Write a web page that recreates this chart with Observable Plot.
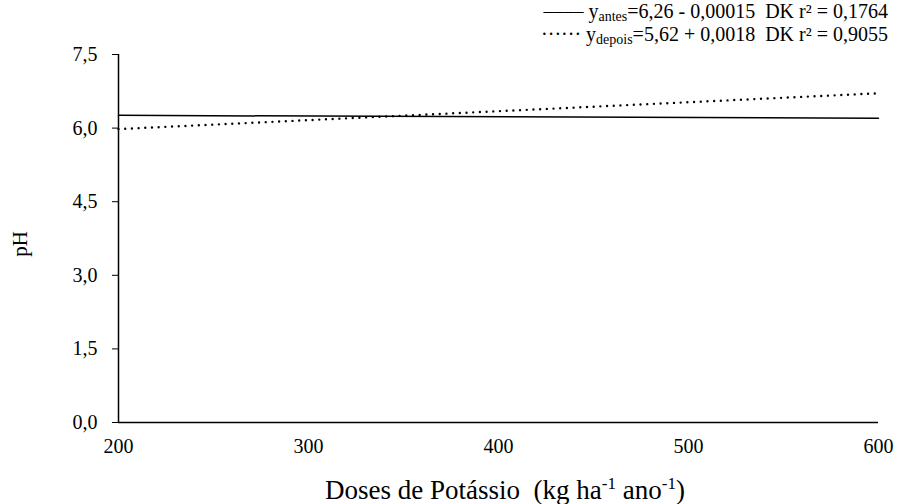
<!DOCTYPE html>
<html><head><meta charset="utf-8">
<script src="https://cdn.jsdelivr.net/npm/d3@7"></script>
<script src="https://cdn.jsdelivr.net/npm/@observablehq/plot@0.6"></script>
<style>body{margin:0;background:#fff} svg, svg text{font-family:'Liberation Serif','Times New Roman',serif !important}</style>
</head><body><div id="chart"></div>
<script>
const doses = [200, 600];
const phAntes = [6.26, 6.20];
const phDepois = [5.98, 6.71];
const yTicks = [0, 1.5, 3, 4.5, 6, 7.5];
const xTicks = [200, 300, 400, 500, 600];
const antes = doses.map((d, i) => ({dose: d, ph: phAntes[i]}));
const depois = doses.map((d, i) => ({dose: d, ph: phDepois[i]}));
const fmt = d => d.toFixed(1).replace(".", ",");
const FONT = "'Liberation Serif', 'Times New Roman', serif";

const chart = Plot.plot({
  width: 898, height: 504,
  marginLeft: 118, marginRight: 20, marginTop: 54, marginBottom: 82,
  style: {fontFamily: FONT, fontSize: "20px", color: "#000", background: "#fff"},
  x: {domain: [200, 600]},
  y: {domain: [0, 7.5]},
  marks: [
    Plot.axisY({ticks: yTicks, tickFormat: fmt, tickSize: 6, tickPadding: 15, label: null, fontSize: 20}),
    Plot.axisX({ticks: xTicks, tickSize: 0, tickPadding: 16, label: null, fontSize: 20, tickFormat: d => String(d)}),
    Plot.ruleX([200], {stroke: "#000", strokeWidth: 1.5}),
    Plot.ruleY([0], {stroke: "#000", strokeWidth: 1.5}),
    Plot.line(antes, {x: "dose", y: "ph", stroke: "#000", strokeWidth: 1.5}),
    Plot.line(depois, {x: "dose", y: "ph", stroke: "#000", strokeWidth: 2.4, strokeDasharray: "0 6.7", strokeLinecap: "round"})
  ]
});
document.getElementById("chart").appendChild(chart);

const svg = d3.select(chart);
svg.append("text").attr("transform", "translate(27,244) rotate(-90)")
  .attr("font-family", FONT).attr("text-anchor", "middle").attr("font-size", 21).text("pH");

const xl = svg.append("text").attr("x", 505).attr("y", 499).attr("text-anchor", "middle")
  .attr("font-family", FONT).attr("font-size", 27);
xl.append("tspan").text("Doses de Potássio\u00a0 (kg ha");
xl.append("tspan").attr("dy", -10).attr("font-size", 17).text("-1");
xl.append("tspan").attr("dy", 10).text(" ano");
xl.append("tspan").attr("dy", -10).attr("font-size", 17).text("-1");
xl.append("tspan").attr("dy", 10).text(")");

const leg = [
  {mark: "\u2013\u2013\u2013\u2013 y", sub: "antes", eq: "=6,26 - 0,00015\u00a0 DK r² = 0,1764", y: 18},
  {mark: "\u00b7\u00b7\u00b7\u00b7\u00b7\u00b7 y", sub: "depois", eq: "=5,62 + 0,0018\u00a0 DK r² = 0,9055", y: 41}
];
leg.forEach(l => {
  const t = svg.append("text").attr("x", 888).attr("y", l.y).attr("text-anchor", "end")
    .attr("font-family", FONT).attr("font-size", 20);
  t.append("tspan").text(l.mark);
  t.append("tspan").attr("dy", 3).attr("font-size", 14).text(l.sub);
  t.append("tspan").attr("dy", -3).text(l.eq);
});
</script></body></html>
